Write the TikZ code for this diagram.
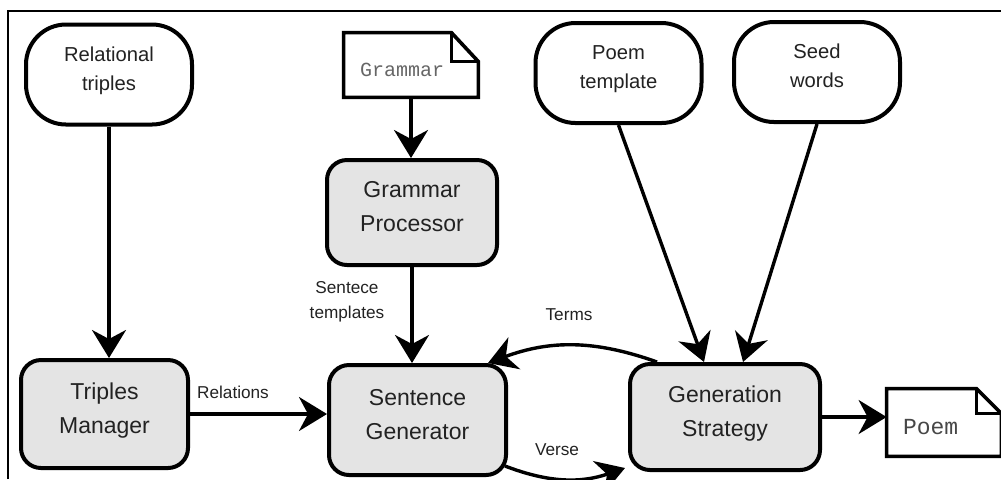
\documentclass[tikz,border=0pt]{standalone}
\usepackage{fontspec}
\setmainfont{Liberation Sans}
\newfontfamily\docmono{Liberation Mono}
\usetikzlibrary{arrows.meta,calc}
\definecolor{boxfill}{HTML}{E4E4E4}
\definecolor{inktext}{HTML}{222222}
\definecolor{monotext}{HTML}{666666}
\begin{document}
\begin{tikzpicture}[x=0.5pt,y=-0.5pt,
  inputbox/.style={draw, line width=2pt, rounded corners=20pt, fill=white,
    minimum width=83pt, minimum height=50pt, align=center, text=inktext,
    font=\fontsize{10.1pt}{14.5pt}\selectfont, text depth=6pt},
  procbox/.style={draw, line width=2pt, rounded corners=10pt, fill=boxfill,
    align=center, text=inktext,
    font=\fontsize{11.5pt}{17pt}\selectfont, text depth=6pt},
  docnode/.style={inner xsep=8pt, inner ysep=0pt, anchor=center,
    text height=11.5pt, text depth=0pt, align=left},
  docline/.style={line width=1.8pt, line join=miter},
  flowlabel/.style={align=center, text=inktext,
    font=\fontsize{8.6pt}{12.5pt}\selectfont},
  conn/.style={line width=1.7pt, -{Stealth[length=14pt,width=17pt,inset=4.5pt]}}
]
\useasboundingbox (0,0) rectangle (1001,479);

% outer frame
\draw[line width=0.8pt] (8,479) -- (8,11) -- (1001,11);

% input sources
\node[inputbox] (rt) at (109,74.5) {Relational\\triples};
\node[inputbox] (pt) at (618.5,73) {Poem\\template};
\node[inputbox] (sw) at (817,72) {Seed\\words};

% grammar file
\node[docnode, minimum width=67pt, minimum height=32pt, text width=51pt,
  text=monotext, font=\docmono\fontsize{10pt}{12pt}\selectfont]
  (gram) at (411,65) {Grammar};
\draw[docline] (gram.south west) -- (gram.north west)
  -- ($(gram.north east)+(-27,0)$) -- ($(gram.north east)+(0,29)$)
  -- (gram.south east) -- cycle;
\draw[docline] ($(gram.north east)+(-27,0)$) |- ($(gram.north east)+(0,29)$);

% processing modules
\node[procbox, minimum width=85pt, minimum height=52.5pt] (gp) at (412,212.5) {Grammar\\Processor};
\node[procbox, minimum width=83.5pt, minimum height=54pt] (tm) at (104.5,414) {Triples\\Manager};
\node[procbox, minimum width=88.5pt, minimum height=55pt] (sg) at (417.5,420) {Sentence\\Generator};
\node[procbox, minimum width=95pt, minimum height=53pt] (gs) at (725,417) {Generation\\Strategy};

% output file
\node[docnode, minimum width=57pt, minimum height=33.5pt, text width=41pt,
  text=black!72, font=\docmono\fontsize{11.5pt}{13pt}\selectfont]
  (poem) at (944,422.5) {Poem};
\draw[docline] (poem.south west) -- (poem.north west)
  -- ($(poem.north east)+(-25,0)$) -- ($(poem.north east)+(0,25)$)
  -- (poem.south east) -- cycle;
\draw[docline] ($(poem.north east)+(-25,0)$) |- ($(poem.north east)+(0,25)$);

% connectors
\draw[conn] (rt.south) -- (rt.south |- tm.north);
\draw[conn] (gram.south) -- (gram.south |- gp.north);
\draw[conn] (gp.south) -- (gp.south |- sg.north);
\draw[conn] (tm.east) -- (tm.east -| sg.west);
\draw[conn] (pt.south) -- ($(gs.north)+(-21,0)$);
\draw[conn] (sw.south) -- ($(gs.north)+(18,0)$);
\draw[conn] (gs.east) -- (gs.east -| poem.west);
\draw[conn] ($(gs.north west)+(29,0)$) to[bend right=20] ($(sg.north east)+(-20,0)$);
\draw[conn] ($(sg.south east)+(-3,-11)$) to[bend right=20] ($(gs.south west)+(-3,-4)$);

% connector labels
\node[flowlabel] (lrel) at (233,392) {Relations};
\node[flowlabel] (ltpl) at (347,302) {Sentece\\templates};
\node[flowlabel] (lterm) at (569,315) {Terms};
\node[flowlabel] (lverse) at (557,450) {Verse};
\end{tikzpicture}
\end{document}
